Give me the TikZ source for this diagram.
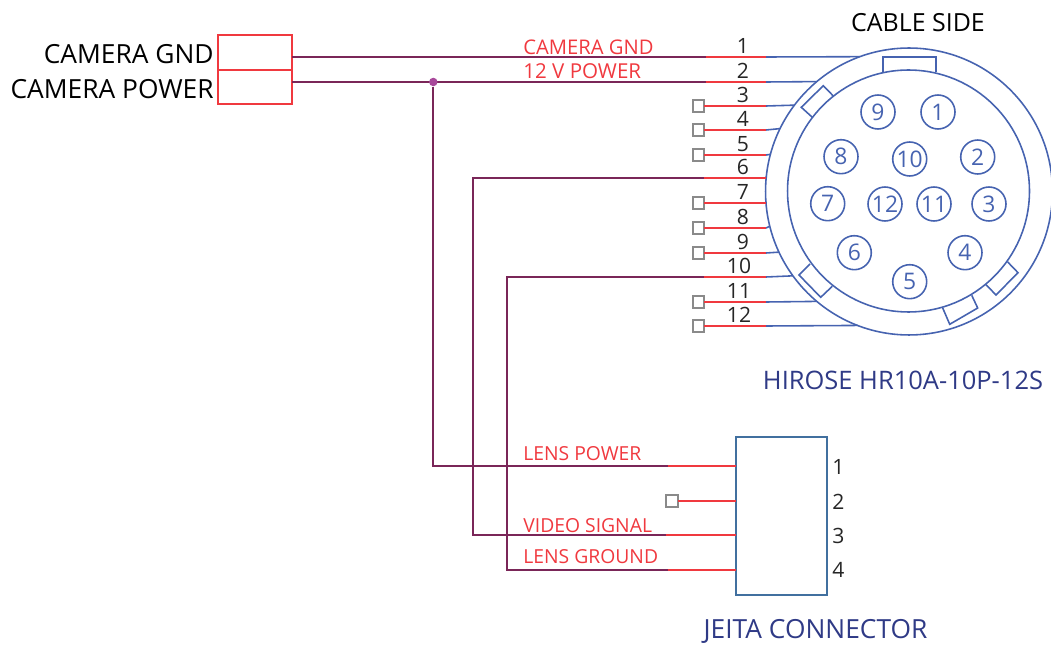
\documentclass[tikz,border=0pt]{standalone}
\usepackage{fontspec}
\setmainfont{Open Sans}
\definecolor{wirered}{HTML}{F0393F}
\definecolor{wireblue}{HTML}{4663B0}
\definecolor{wiredark}{HTML}{7A2658}
\definecolor{stubgray}{HTML}{8A8A8A}
\definecolor{jeitablue}{HTML}{41709F}
\definecolor{navytext}{HTML}{2F3A86}
\definecolor{dotpink}{HTML}{A8489A}
\tikzset{
	redwire/.style={wirered,line width=0.9pt},
	bluewire/.style={wireblue,line width=0.9pt},
	darkwire/.style={wiredark,line width=0.95pt},
	stubbox/.style={draw=stubgray,fill=white,line width=0.9pt,minimum size=0.23cm,inner sep=0pt,outer sep=0pt},
	housing/.style={draw=wireblue,circle,line width=0.9pt,inner sep=0pt,outer sep=0pt},
	pinhole/.style={housing,minimum size=0.68cm,text=wireblue,font=\fontsize{13}{13}\selectfont},
	plugbox/.style={draw=wirered,line width=0.9pt,minimum width=1.48cm,minimum height=0.68cm,inner sep=0pt,outer sep=0pt},
	redlabel/.style={text=wirered,anchor=west,inner sep=0pt,font=\fontsize{11}{11}\selectfont},
	wirenum/.style={text=black!85,inner sep=0pt,font=\fontsize{12}{12}\selectfont},
	biglabel/.style={inner sep=0pt,font=\fontsize{15}{15}\selectfont}
}
\begin{document}
\begin{tikzpicture}[x=0.02cm,y=-0.02cm]
	\useasboundingbox (0,0) rectangle (1051,648);
	
	% round connector
	\node[housing,minimum size=5.74cm] (outer) at (909,191.5) {};
	\node[housing,minimum size=4.84cm] (inner) at (908.5,191) {};
	\draw[bluewire] (883,72.5) -- (883,57) -- (936,57) -- (936,72.5);
	\draw[bluewire] (812.3,117.3) -- (801.3,107.3) -- (823.3,85.7) -- (833.3,96);
	\draw[bluewire] (810,264) -- (799,275) -- (820.7,297.3) -- (832.3,286.3);
	\draw[bluewire] (1007.7,262) -- (1018,272.7) -- (996,295) -- (986,284.7);
	\draw[bluewire] (971.7,295.3) -- (977.7,308) -- (949.7,324.3) -- (942.7,308);
	
	\foreach \n/\x/\y in {9/878/112,1/938/112,8/841/156.7,10/909.7/159,2/977.7/157,7/827.7/203.7,12/885/204,11/934/204,3/989/204,6/854.3/252.7,4/965/252.7,5/909.7/281.7}
	{
		\node[pinhole] (hole\n) at (\x,\y) {\n};
	}
	
	% wires on the round connector
	\foreach \n/\y/\xn in {1/57/743,2/82/743,3/106/743,4/130/743,5/155/743,6/178/743,7/203/743,8/228/743,9/253/743,10/277/739,11/302/739,12/326/739}
	{
		\pgfmathsetmacro{\a}{180-asin((191.5-\y)/143.5)}
		\coordinate (red\n) at (766,\y);
		\draw[bluewire] (red\n) -- (outer.\a);
		\node[wirenum] (num\n) at (\xn,\y-11) {\n};
	}
	\foreach \n/\y in {3/106,4/130,5/155,7/203,8/228,9/253,11/302,12/326}
	{
		\node[stubbox] (stub\n) at (698.5,\y) {};
		\draw[redwire] (stub\n) -- (red\n);
	}
	
	% camera plug
	\node[plugbox,minimum height=0.7cm] (plugA) at (255,52.5) {};
	\node[plugbox] (plugB) at (255,87) {};
	\node[biglabel,anchor=east] (camgnd) at (214,54) {CAMERA GND};
	\node[biglabel,anchor=east] (campower) at (214,89) {CAMERA POWER};
	
	% lens plug
	\node[draw=jeitablue,line width=1.1pt,minimum width=1.814cm,minimum height=3.154cm,inner sep=0pt,outer sep=0pt] (jeita) at (781.3,515.8) {};
	\foreach \n/\y in {1/467,2/502,3/536,4/570}
	{
		\node[wirenum] (pin\n) at (838.5,\y) {\n};
	}
	\coordinate (lensA) at (668,466);
	\coordinate (lensC) at (666,535);
	\coordinate (lensD) at (668,570);
	\coordinate (dark1) at (706,57);
	\coordinate (dark2) at (706,82);
	\coordinate (dark6) at (704,178);
	\coordinate (dark10) at (704,277);
	\coordinate (lensB) at (736,501);
	\node[stubbox] (stubB) at (672,501) {};
	
	\draw[darkwire] (plugA.east |- dark1) -- (dark1);
	\draw[darkwire] (plugB.east |- dark2) -- (dark2);
	\node[fill=dotpink,circle,minimum size=0.17cm,inner sep=0pt] (dot) at (433.3,82) {};
	\draw[darkwire] (dot) |- (lensA);
	\draw[darkwire] (dark6) -| (473.3,535) -- (lensC);
	\draw[darkwire] (dark10) -| (507,570) -- (lensD);
	
	\draw[redwire] (dark1) -- (red1);
	\draw[redwire] (dark2) -- (red2);
	\draw[redwire] (dark6) -- (red6);
	\draw[redwire] (dark10) -- (red10);
	\draw[redwire] (lensA) -- (jeita.west |- lensA);
	\draw[redwire] (stubB) -- (lensB);
	\draw[redwire] (lensC) -- (jeita.west |- lensC);
	\draw[redwire] (lensD) -- (jeita.west |- lensD);
	
	% texts
	\node[redlabel,font=\fontsize{11.5}{11.5}\selectfont] (txtA) at (523,47) {CAMERA GND};
	\node[redlabel,font=\fontsize{11.7}{11.7}\selectfont] (txtB) at (523,71) {12 V POWER};
	\node[redlabel] (txtC) at (523,454) {LENS POWER};
	\node[redlabel] (txtD) at (523,526) {VIDEO SIGNAL};
	\node[redlabel] (txtE) at (523,557) {LENS GROUND};
	\node[biglabel,font=\fontsize{14.2}{14.2}\selectfont] (cableside) at (918,23) {CABLE SIDE};
	\node[biglabel,font=\fontsize{14.5}{14.5}\selectfont,text=navytext] (hirose) at (903,380) {HIROSE HR10A-10P-12S};
	\node[biglabel,text=navytext] (jeitatxt) at (815.5,631) {JEITA CONNECTOR};
\end{tikzpicture}
\end{document}
